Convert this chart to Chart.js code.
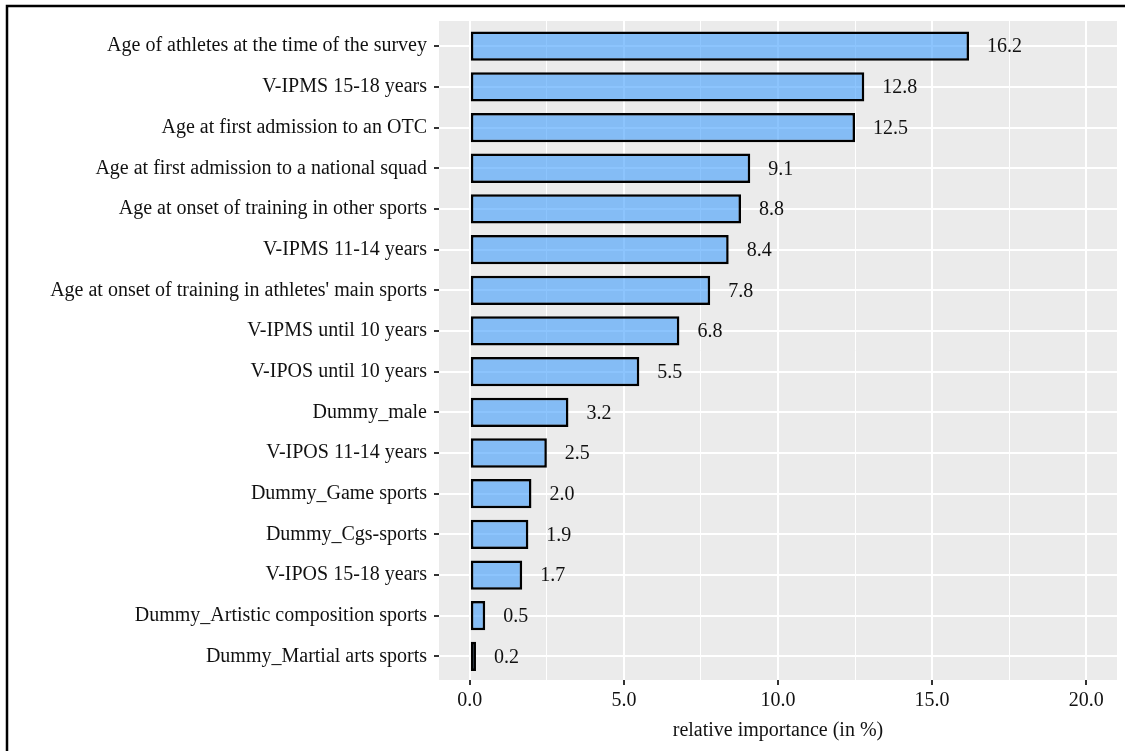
<!DOCTYPE html>
<html>
<head>
<meta charset="utf-8">
<script src="https://cdn.jsdelivr.net/npm/chart.js@4"></script>
<style>
  html, body { margin: 0; padding: 0; background: #fff; }
  #wrap { width: 1125px; height: 751px; }
</style>
</head>
<body>
<div id="wrap"><canvas id="myChart" width="1125" height="751"></canvas></div>
<script>
const labels = [
    "Age of athletes at the time of the survey",
    "V-IPMS 15-18 years",
    "Age at first admission to an OTC",
    "Age at first admission to a national squad",
    "Age at onset of training in other sports",
    "V-IPMS 11-14 years",
    "Age at onset of training in athletes' main sports",
    "V-IPMS until 10 years",
    "V-IPOS until 10 years",
    "Dummy_male",
    "V-IPOS 11-14 years",
    "Dummy_Game sports",
    "Dummy_Cgs-sports",
    "V-IPOS 15-18 years",
    "Dummy_Artistic composition sports",
    "Dummy_Martial arts sports"
];
const importance = [16.2, 12.8, 12.5, 9.1, 8.8, 8.4, 7.8, 6.8, 5.5, 3.2, 2.5, 2.0, 1.9, 1.7, 0.5, 0.2];
const xTicks = [0, 2.5, 5, 7.5, 10, 12.5, 15, 17.5, 20];

const font = "'Liberation Serif', 'Times New Roman', serif";
const ctx = document.getElementById('myChart');

// grey ggplot panel + outer frame
const panelPlugin = {
    id: 'panel',
    beforeDraw(chart) {
        const c = chart.ctx, a = chart.chartArea;
        c.save();
        c.fillStyle = '#fff';
        c.fillRect(0, 0, chart.width, chart.height);
        c.fillStyle = '#EBEBEB';
        c.fillRect(a.left, a.top, a.right - a.left, a.bottom - a.top);
        c.restore();
    },
    afterDraw(chart) {
        const c = chart.ctx;
        c.save();
        c.strokeStyle = '#000';
        c.lineWidth = 2.5;
        c.beginPath();
        c.moveTo(7, chart.height);
        c.lineTo(7, 6);
        c.lineTo(chart.width, 6);
        c.stroke();
        c.restore();
    }
};

const valueLabels = {
    id: 'valueLabels',
    afterDatasetsDraw(chart) {
        const c = chart.ctx;
        const meta = chart.getDatasetMeta(0);
        c.save();
        c.font = '20px ' + font;
        c.fillStyle = '#111';
        c.textAlign = 'left';
        c.textBaseline = 'middle';
        meta.data.forEach((bar, i) => {
            c.fillText(importance[i].toFixed(1), bar.x + 18, bar.y + 1);
        });
        c.restore();
    }
};

new Chart(ctx, {
    type: 'bar',
    data: {
        datasets: [{
            data: importance.map((v, i) => ({ x: v, y: i })),
            backgroundColor: 'rgba(63,157,252,0.6)',
            borderColor: '#000',
            borderWidth: 2.5,
            borderSkipped: false,
            barPercentage: 0.72,
            categoryPercentage: 1
        }]
    },
    options: {
        indexAxis: 'y',
        responsive: false,
        animation: false,
        layout: { padding: { top: 21, right: 8, left: 0, bottom: 0 } },
        plugins: {
            legend: { display: false },
            tooltip: { enabled: false }
        },
        scales: {
            x: {
                type: 'linear',
                min: -1,
                max: 21,
                afterBuildTicks: (scale) => { scale.ticks = xTicks.map(v => ({ value: v })); },
                afterFit: (scale) => { scale.height = 71; },
                border: { display: false },
                grid: {
                    color: '#fff',
                    lineWidth: (c) => (c.tick && c.tick.value % 5 === 0 ? 2 : 1),
                    tickColor: (c) => (c.tick && c.tick.value % 5 === 0 ? '#333' : 'rgba(0,0,0,0)'),
                    tickWidth: 2,
                    tickLength: 5
                },
                ticks: {
                    autoSkip: false,
                    maxRotation: 0,
                    padding: 4,
                    color: '#111',
                    font: { family: font, size: 20 },
                    callback: (v) => (v % 5 === 0 ? v.toFixed(1) : '')
                },
                title: {
                    display: true,
                    text: 'relative importance (in %)',
                    color: '#111',
                    font: { family: font, size: 20 },
                    padding: { top: 0, bottom: 8 }
                }
            },
            y: {
                type: 'linear',
                reverse: true,
                offset: false,
                min: -0.62,
                max: 15.58,
                afterBuildTicks: (scale) => { scale.ticks = labels.map((_, i) => ({ value: i })); },
                afterFit: (scale) => { scale.width = 439; },
                border: { display: false },
                grid: {
                    offset: false,
                    color: '#fff',
                    lineWidth: 2,
                    tickColor: '#333',
                    tickWidth: 2,
                    tickLength: 5
                },
                ticks: {
                    autoSkip: false,
                    padding: 7,
                    color: '#111',
                    font: { family: font, size: 20 },
                    callback: (v) => labels[v]
                }
            }
        }
    },
    plugins: [panelPlugin, valueLabels]
});
</script>
</body>
</html>
